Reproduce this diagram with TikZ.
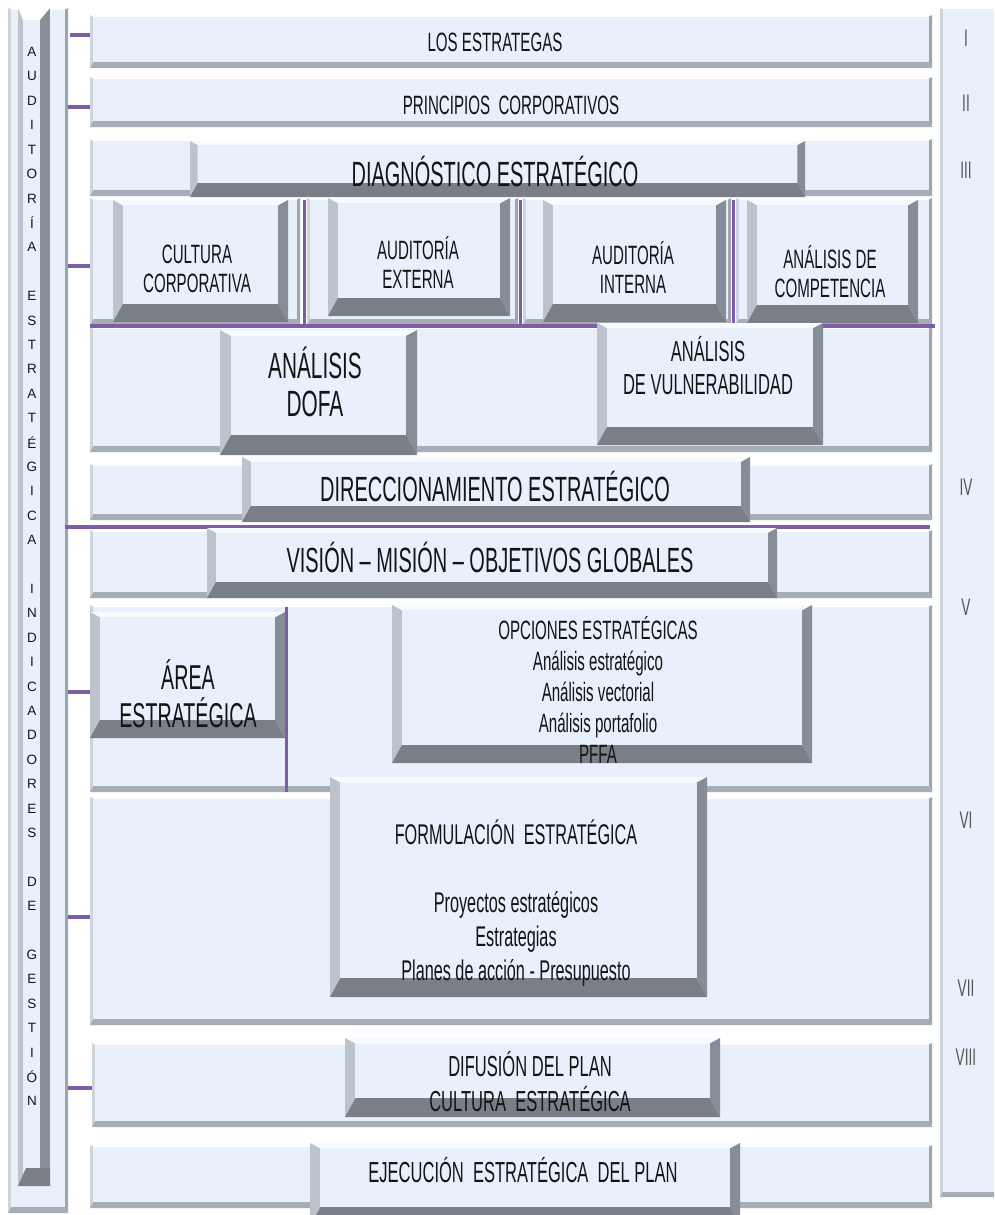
\documentclass[tikz,border=0pt]{standalone}
\usepackage{fontspec}
\setmainfont{Liberation Sans}[FakeStretch=0.57]
\newfontfamily\colfont{Liberation Sans}
\usetikzlibrary{calc}

\definecolor{bvtop}{HTML}{F6FBFF}
\definecolor{bvleft}{HTML}{BCC3CD}
\definecolor{bvright}{HTML}{878D96}
\definecolor{bvbottom}{HTML}{7A7E86}
\definecolor{bvface}{HTML}{E8F1FB}
\definecolor{frleft}{HTML}{CDD4DC}
\definecolor{frright}{HTML}{9EA5AE}
\definecolor{frbottom}{HTML}{A6ADB6}
\definecolor{lila}{HTML}{7D5CA8}
\definecolor{txt}{HTML}{141414}
\definecolor{numgray}{HTML}{555555}

\newcommand{\szA}{\fontsize{26.5}{29}\selectfont}
\newcommand{\szB}{\fontsize{29}{33}\selectfont}
\newcommand{\szC}{\fontsize{35}{37}\selectfont}

% bevelled box: name, x1, y1, x2, y2, depth
\newcommand{\bevbox}[6]{%
  \pgfmathsetmacro{\bvT}{0.3*#6}%
  \pgfmathsetmacro{\bvS}{0.55*#6}%
  \fill[bevtop] (#2,#3) -- (#4,#3) -- ({#4-\bvS},{#3+\bvT}) -- ({#2+\bvS},{#3+\bvT}) -- cycle;
  \fill[bevleft] (#2,#3) -- ({#2+\bvS},{#3+\bvT}) -- ({#2+\bvS},{#5-#6}) -- (#2,#5) -- cycle;
  \fill[bevright] (#4,#3) -- (#4,#5) -- ({#4-\bvS},{#5-#6}) -- ({#4-\bvS},{#3+\bvT}) -- cycle;
  \fill[bevbottom] (#2,#5) -- (#4,#5) -- ({#4-\bvS},{#5-#6}) -- ({#2+\bvS},{#5-#6}) -- cycle;
  \fill[bevface] ({#2+\bvS},{#3+\bvT}) rectangle ({#4-\bvS},{#5-#6});
  \node[boxarea, minimum width={#4-#2}, minimum height={#5-#3}] (#1) at ({(#2+#4)/2},{(#3+#5)/2}) {};
}

\begin{document}
\begin{tikzpicture}[x=1pt,y=-1pt,
   bevtop/.style={fill=bvtop}, bevleft/.style={fill=bvleft},
   bevright/.style={fill=bvright}, bevbottom/.style={fill=bvbottom},
   bevface/.style={fill=bvface},
   rowframe/.style={bevtop/.style={fill=white}, bevleft/.style={fill=frleft},
     bevright/.style={fill=frright}, bevbottom/.style={fill=frbottom}},
   boxarea/.style={inner sep=0pt, outer sep=0pt},
   lbl/.style={text=txt, align=center, inner sep=0pt},
   roman/.style={text=numgray, inner sep=0pt, font=\fontsize{24}{24}\selectfont},
   letter/.style={text=txt, inner sep=0pt, font=\colfont\fontsize{13.5}{13.5}\selectfont},
   link/.style={draw=lila, line width=4.5pt}]
\useasboundingbox (0,0) rectangle (994,1215);
\clip (0,0) rectangle (994,1215);
\fill[white] (0,0) rectangle (994,1215);

% left column
\begin{scope}[rowframe]
\bevbox{lcol}{8}{8}{68}{1213}{6}
\end{scope}
\fill[bvface] (18,8) rectangle (50,1186);
\fill[bvleft] (18,8) rectangle (23,1186);
\fill[bvright] (40,8) rectangle (50,1186);
\fill[bvbottom] (18,1186) -- (50,1186) -- (50,1168) -- (26,1168) -- cycle;
\fill[white] (18,8) -- (50,8) -- (40,20) -- (23,20) -- cycle;
\foreach \ch [count=\i from 0] in {A,U,D,I,T,O,R,Í,A,,E,S,T,R,A,T,É,G,I,C,A,,%
   I,N,D,I,C,A,D,O,R,E,S,,D,E,,G,E,S,T,I,Ó,N}
  \node[letter] (v\i) at (32,{52+24.4*\i}) {\ch};

% right column
\begin{scope}[rowframe]
\bevbox{rcol}{940}{8}{1000}{1197}{5}
\end{scope}
\node[roman] (n1) at (966,38) {I};
\node[roman] (n2) at (966,103) {II};
\node[roman] (n3) at (966,170) {III};
\node[roman] (n4) at (966,487) {IV};
\node[roman] (n5) at (966,607) {V};
\node[roman] (n6) at (966,820) {VI};
\node[roman] (n7) at (966,988) {VII};
\node[roman] (n8) at (966,1057) {VIII};

% I, II
\begin{scope}[rowframe]
\bevbox{row1}{90}{15}{932}{68}{6}
\bevbox{row2}{90}{77}{932}{127}{6}
\end{scope}
\node[lbl, font=\szA] (estrategas) at (495,42) {LOS ESTRATEGAS};
\node[lbl, font=\szA] (principios) at (511,105) {PRINCIPIOS\ \ CORPORATIVOS};
\coordinate (k1) at (70,35);
\coordinate (k2) at (68,107);
\draw[link] (k1) -- (k1 -| row1.west);
\draw[link] (k2) -- (k2 -| row2.west);

% III
\begin{scope}[rowframe]
\bevbox{row3}{90}{139}{932}{196}{6}
\bevbox{c1}{90}{198}{300}{325}{6}
\bevbox{c2}{307}{198}{518}{325}{6}
\bevbox{c3}{523}{198}{731}{325}{6}
\bevbox{c4}{736}{198}{932}{325}{6}
\bevbox{row3b}{90}{327}{932}{452}{6}
\end{scope}
\bevbox{diag}{190}{141}{805}{197}{14}
\node[lbl, font=\szC] (tdiag) at (495,171) {DIAGNÓSTICO ESTRATÉGICO};
\bevbox{cult}{113}{200}{288}{322}{18}
\bevbox{aext}{328}{198}{510}{316}{18}
\bevbox{aint}{543}{200}{726}{322}{18}
\bevbox{comp}{747}{200}{918}{323}{18}
\node[lbl, font=\szA] (tcult) at (197,269) {CULTURA\\CORPORATIVA};
\node[lbl, font=\szA] (taext) at (418,263) {AUDITORÍA\\EXTERNA};
\node[lbl, font=\szA] (taint) at (633,268) {AUDITORÍA\\INTERNA};
\node[lbl, font=\szA] (tcomp) at (830,272) {ANÁLISIS DE\\COMPETENCIA};
\coordinate (hl-w) at (90,326);
\coordinate (hl-e) at (935,326);
\draw[link, line width=4pt] (hl-w) -- (hl-e);
\coordinate (s1) at (304,200);
\coordinate (s2) at (520,200);
\coordinate (s3) at (733,200);
\foreach \s in {s1,s2,s3}
  \draw[link, line width=3pt] (\s) -- (\s |- hl-w);
\bevbox{dofa}{220}{330}{417}{455}{20}
\bevbox{vuln}{597}{323}{823}{445}{18}
\node[lbl, font=\fontsize{36.5}{38}\selectfont] (tdofa) at (315,382) {ANÁLISIS\\DOFA};
\node[lbl, font=\fontsize{29}{33}\selectfont] (tvuln) at (708,366) {ANÁLISIS\\DE VULNERABILIDAD};
\coordinate (k3) at (68,266);
\draw[link] (k3) -- (k3 -| c1.west);

% IV
\begin{scope}[rowframe]
\bevbox{row4}{90}{464}{932}{520}{6}
\bevbox{row4b}{90}{530}{932}{598}{6}
\end{scope}
\bevbox{direc}{242}{457}{750}{522}{16}
\node[lbl, font=\szC] (tdirec) at (495,486) {DIRECCIONAMIENTO ESTRATÉGICO};
\coordinate (vm-w) at (65,527);
\coordinate (vm-e) at (930,527);
\draw[link] (vm-w) -- (vm-e);
\bevbox{vision}{207}{528}{777}{598}{16}
\node[lbl, font=\szC] (tvision) at (490,557) {VISIÓN – MISIÓN – OBJETIVOS GLOBALES};

% V
\begin{scope}[rowframe]
\bevbox{row5}{90}{605}{932}{792}{6}
\end{scope}
\bevbox{area}{90}{612}{285}{738}{18}
\bevbox{opc}{392}{605}{812}{763}{18}
\node[lbl, font=\fontsize{34.5}{38}\selectfont] (tarea) at (188,694) {ÁREA\\ESTRATÉGICA};
\node[lbl, font=\fontsize{26.5}{31}\selectfont] (topc) at (598,690)
  {OPCIONES ESTRATÉGICAS\\Análisis estratégico\\Análisis vectorial\\Análisis portafolio\\PFFA};
\coordinate (s4) at (286,607);
\draw[link, line width=3pt] (s4) -- (s4 |- row5.south);
\coordinate (k5) at (68,692);
\draw[link] (k5) -- (k5 -| row5.west);

% VI, VII
\begin{scope}[rowframe]
\bevbox{row6}{90}{797}{932}{1025}{6}
\end{scope}
\bevbox{form}{330}{777}{707}{997}{19}
\node[lbl, font=\fontsize{28.5}{34}\selectfont] (tform) at (516,903)
  {FORMULACIÓN\ \ ESTRATÉGICA\\\mbox{}\\Proyectos estratégicos\\Estrategias\\Planes de acción - Presupuesto};
\coordinate (k6) at (68,917);
\draw[link] (k6) -- (k6 -| row6.west);

% VIII
\begin{scope}[rowframe]
\bevbox{row8}{92}{1043}{932}{1127}{6}
\end{scope}
\bevbox{difu}{345}{1038}{720}{1117}{19}
\node[lbl, font=\fontsize{29}{35}\selectfont] (tdifu) at (530,1082) {DIFUSIÓN\ DEL PLAN\\CULTURA\ \ ESTRATÉGICA};
\coordinate (k8) at (68,1088);
\draw[link] (k8) -- (k8 -| row8.west);

% IX
\begin{scope}[rowframe]
\bevbox{row9}{90}{1145}{932}{1208}{6}
\end{scope}
\bevbox{ejec}{310}{1143}{740}{1226}{19}
\node[lbl, font=\fontsize{29}{33}\selectfont] (tejec) at (523,1170) {EJECUCIÓN\ \ ESTRATÉGICA\ \ DEL PLAN};
\end{tikzpicture}
\end{document}
